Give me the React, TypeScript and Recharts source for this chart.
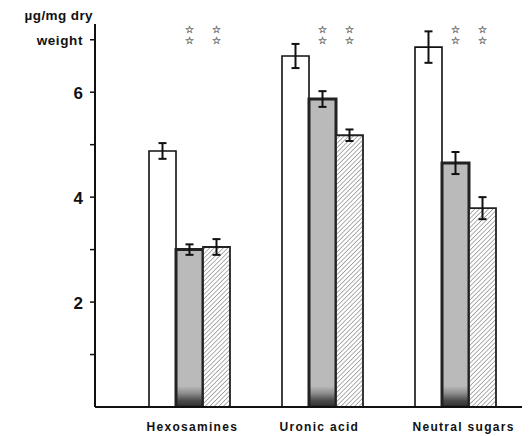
import React from "react";
import { BarChart, Bar, XAxis, YAxis, ErrorBar, LabelList } from "recharts";

const categories = ["Hexosamines", "Uronic acid", "Neutral sugars"];
const controlValues = [4.88, 6.69, 6.86];
const controlErrors = [0.15, 0.23, 0.3];
const grayValues = [3.0, 5.87, 4.65];
const grayErrors = [0.1, 0.15, 0.21];
const hatchedValues = [3.05, 5.18, 3.79];
const hatchedErrors = [0.15, 0.11, 0.21];
const yTicks = [1, 2, 3, 4, 5, 6, 7];
const yTickLabels: Record<number, string> = { 2: "2", 4: "4", 6: "6" };
const yTitleLines = ["\u00b5g/mg dry", "weight"];
const starLevels = [7.2, 6.98];
const starGlyph = "\u2606";

const data = categories.map((name, i) => ({
  name,
  control: controlValues[i],
  controlErr: controlErrors[i],
  gray: grayValues[i],
  grayErr: grayErrors[i],
  hatched: hatchedValues[i],
  hatchedErr: hatchedErrors[i],
}));

const FONT = '"Liberation Sans", Arial, Helvetica, sans-serif';

function YTick(props: any) {
  const { x, y, payload } = props;
  const v = payload.value;
  if (v === 7) {
    return (
      <g>
        <text x={x + 5} y={y - 24} textAnchor="end" dominantBaseline="central" fontFamily={FONT} fontWeight="bold" fontSize={13.5} fill="#111" letterSpacing={0.4}>
          {yTitleLines[0]}
        </text>
        <text x={x - 5} y={y + 1} textAnchor="end" dominantBaseline="central" fontFamily={FONT} fontWeight="bold" fontSize={13.5} fill="#111" letterSpacing={0.6}>
          {yTitleLines[1]}
        </text>
      </g>
    );
  }
  const label = yTickLabels[v];
  if (!label) return null;
  return (
    <text x={x - 5} y={y + 1} textAnchor="end" dominantBaseline="central" fontFamily={FONT} fontWeight="bold" fontSize={17} fill="#111">
      {label}
    </text>
  );
}

function XTick(props: any) {
  const { x, y, payload } = props;
  return (
    <text x={x - 43} y={y + 24} textAnchor="start" fontFamily={FONT} fontWeight="bold" fontSize={12} fill="#111" letterSpacing={1.3}>
      {payload.value}
    </text>
  );
}

function Stars(props: any) {
  const { x, y, width, height, value } = props;
  if (value == null || !height) return null;
  const perUnit = height / value;
  const base = y + height;
  const cx = x + width / 2;
  return (
    <g>
      {starLevels.map((lvl, k) => (
        <text key={k} x={cx} y={base - lvl * perUnit} textAnchor="middle" dominantBaseline="central" fontFamily='"DejaVu Sans", sans-serif' fontSize={10} fill="#666" stroke="#777" strokeWidth={0.4}>
          {starGlyph}
        </text>
      ))}
    </g>
  );
}

export default function App() {
  return (
    <div style={{ position: "absolute", left: 0, top: 0, background: "#fff" }}>
      <BarChart
        width={530}
        height={436}
        data={data}
        margin={{ top: 24, right: 8, bottom: 0, left: 0 }}
        barSize={27}
        barGap={0}
      >
        <defs>
          <linearGradient id="grayFill" gradientUnits="userSpaceOnUse" x1="0" y1="386" x2="0" y2="407">
            <stop offset="0" stopColor="#bababa" />
            <stop offset="0.35" stopColor="#8c8c8c" />
            <stop offset="0.7" stopColor="#4a4a4a" />
            <stop offset="1" stopColor="#303030" />
          </linearGradient>
          <pattern id="hatch" width="3.2" height="3.2" patternUnits="userSpaceOnUse" patternTransform="rotate(45)">
            <rect width="3.2" height="3.2" fill="#fff" />
            <line x1="0" y1="0" x2="0" y2="3.2" stroke="#6e6e6e" strokeWidth="1.1" />
          </pattern>
        </defs>
        <XAxis
          dataKey="name"
          padding={{ left: 28, right: 0 }}
          tickLine={false}
          tickSize={0}
          tickMargin={0}
          height={29}
          axisLine={{ stroke: "#111", strokeWidth: 2 }}
          tick={<XTick />}
          interval={0}
        />
        <YAxis
          domain={[0, 7.3]}
          ticks={yTicks}
          width={95}
          tickSize={5}
          tickMargin={2}
          tickLine={{ stroke: "#111", strokeWidth: 1.5 }}
          axisLine={{ stroke: "#111", strokeWidth: 2 }}
          tick={<YTick />}
          allowDataOverflow
        />
        <Bar dataKey="control" fill="#fff" stroke="#111" strokeWidth={1.6} isAnimationActive={false}>
          <ErrorBar dataKey="controlErr" width={4} stroke="#111" strokeWidth={2} />
        </Bar>
        <Bar dataKey="gray" fill="url(#grayFill)" stroke="#222" strokeWidth={3} isAnimationActive={false}>
          <ErrorBar dataKey="grayErr" width={4} stroke="#111" strokeWidth={2} />
          <LabelList dataKey="gray" content={<Stars />} />
        </Bar>
        <Bar dataKey="hatched" fill="url(#hatch)" stroke="#222" strokeWidth={1.8} isAnimationActive={false}>
          <ErrorBar dataKey="hatchedErr" width={4} stroke="#111" strokeWidth={2} />
          <LabelList dataKey="hatched" content={<Stars />} />
        </Bar>
      </BarChart>
    </div>
  );
}
